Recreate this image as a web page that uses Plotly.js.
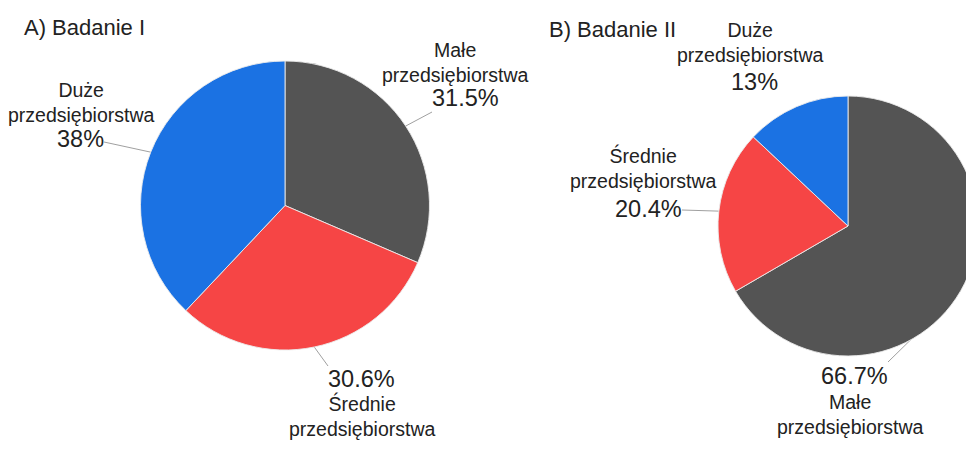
<!DOCTYPE html>
<html><head><meta charset="utf-8">
<script src="https://cdn.plot.ly/plotly-3.0.1.min.js"></script>
<style>html,body{margin:0;padding:0;overflow:hidden;background:#fff}#chart{width:1000px;height:452px}</style>
</head><body><div id="chart"></div>
<script>
// ---- data ----
const categoriesA = ['Małe przedsiębiorstwa', 'Średnie przedsiębiorstwa', 'Duże przedsiębiorstwa'];
const valuesA = [31.5, 30.6, 38];
const categoriesB = ['Małe przedsiębiorstwa', 'Średnie przedsiębiorstwa', 'Duże przedsiębiorstwa'];
const valuesB = [66.7, 20.4, 13];
const titles = ['A) Badanie I', 'B) Badanie II'];

// ---- styles / layout (pixels, top-left origin) ----
const W = 1000, H = 452;
const colors = ['#545454', '#f64545', '#1b72e3'];
const FONT = 'Liberation Sans, Arial, sans-serif';
const TXT = '#222222';
const NAME_SIZE = 19.5, PCT_SIZE = 23.5, TITLE_SIZE = 22;

const pies = [
  { cats: categoriesA, vals: valuesA, title: titles[0], titlePos: [22, 28],
    box: { x: [140, 430], y: [61, 350] },
    labels: [
      { name: [455, 63], pct: [465, 98], end: [432, 112] },
      { name: [362, 416], pct: [361, 379], end: [328, 366] },
      { name: [81, 103], pct: [80, 139], end: [104, 142] }
    ] },
  { cats: categoriesB, vals: valuesB, title: titles[1], titlePos: [547, 29],
    box: { x: [718, 978], y: [96, 356] },
    labels: [
      { name: [850, 414], pct: [854, 376], end: [888, 362] },
      { name: [643, 168], pct: [648, 209], end: [682, 210] },
      { name: [750, 43], pct: [754, 82], end: null }
    ] }
];

const px = x => x / W;
const py = y => 1 - y / H;

const traces = [];
const annotations = [];
const shapes = [];

pies.forEach(p => {
  const dom = { x: [px(p.box.x[0]), px(p.box.x[1])], y: [py(p.box.y[1]), py(p.box.y[0])] };
  traces.push({
    type: 'pie', values: p.vals, labels: p.cats, sort: false, direction: 'clockwise',
    rotation: 0, textinfo: 'none', hoverinfo: 'skip', showlegend: false,
    marker: { colors: colors, line: { color: 'rgba(235,235,235,0.9)', width: 1 } },
    domain: dom
  });
  annotations.push({
    xref: 'paper', yref: 'paper', x: px(p.titlePos[0]), y: py(p.titlePos[1]),
    xanchor: 'left', yanchor: 'middle', showarrow: false, text: p.title,
    font: { family: FONT, size: TITLE_SIZE, color: TXT }
  });
  const cx = (p.box.x[0] + p.box.x[1]) / 2, cy = (p.box.y[0] + p.box.y[1]) / 2;
  const r = Math.min(p.box.x[1] - p.box.x[0], p.box.y[1] - p.box.y[0]) / 2;
  const total = p.vals.reduce((a, b) => a + b, 0);
  let cum = 0;
  p.vals.forEach((v, i) => {
    const th = 2 * Math.PI * (cum + v / 2) / total;
    cum += v;
    const lab = p.labels[i];
    annotations.push({
      xref: 'paper', yref: 'paper', x: px(lab.name[0]), y: py(lab.name[1]),
      xanchor: 'center', yanchor: 'middle', showarrow: false, borderpad: 0,
      text: p.cats[i].split(' ').join('<br>'),
      font: { family: FONT, size: NAME_SIZE, color: TXT }
    });
    annotations.push({
      xref: 'paper', yref: 'paper', x: px(lab.pct[0]), y: py(lab.pct[1]),
      xanchor: 'center', yanchor: 'middle', showarrow: false, borderpad: 0,
      text: v + '%',
      font: { family: FONT, size: PCT_SIZE, color: TXT }
    });
    if (lab.end) {
      const sx = cx + r * Math.sin(th), sy = cy - r * Math.cos(th);
      shapes.push({
        type: 'line', xref: 'paper', yref: 'paper', layer: 'below',
        x0: px(sx), y0: py(sy), x1: px(lab.end[0]), y1: py(lab.end[1]),
        line: { color: '#a0a0a0', width: 1 }
      });
    }
  });
});

Plotly.newPlot('chart', traces, {
  width: W, height: H, margin: { l: 0, r: 0, t: 0, b: 0 },
  paper_bgcolor: '#ffffff', plot_bgcolor: '#ffffff',
  annotations: annotations, shapes: shapes
}, { staticPlot: true });
</script>
</body></html>
